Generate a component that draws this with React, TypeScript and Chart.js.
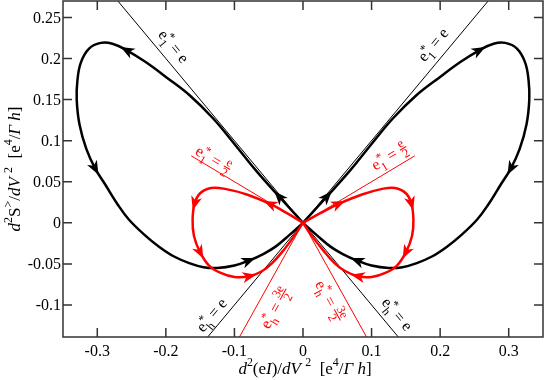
import React, { useEffect, useRef } from "react";
import { Chart, registerables } from "chart.js";
Chart.register(...registerables);

// ---------- data ----------
const xTicks = [-0.3, -0.2, -0.1, 0, 0.1, 0.2, 0.3];
const xTickLabels = ["-0.3", "-0.2", "-0.1", "0", "0.1", "0.2", "0.3"];
const yTicks = [-0.1, -0.05, 0, 0.05, 0.1, 0.15, 0.2, 0.25];
const yTickLabels = ["-0.1", "-0.05", "0", "0.05", "0.1", "0.15", "0.2", "0.25"];

const blackLeftX = [0, -0.035, -0.07, -0.1, -0.131, -0.165, -0.199, -0.23, -0.257, -0.278, -0.295, -0.312, -0.324, -0.329, -0.33, -0.326, -0.316, -0.303, -0.288, -0.27, -0.254, -0.232, -0.21, -0.188, -0.166, -0.145, -0.125, -0.1, -0.079, -0.058, -0.04, -0.02, 0];
const blackLeftY = [0, 0.032, 0.065, 0.096, 0.127, 0.155, 0.177, 0.196, 0.21, 0.218, 0.219, 0.212, 0.195, 0.173, 0.15, 0.12, 0.09, 0.066, 0.046, 0.022, 0.004, -0.014, -0.029, -0.041, -0.049, -0.054, -0.055, -0.052, -0.046, -0.038, -0.029, -0.015, 0];
const blackRightX = [0, 0.035, 0.07, 0.1, 0.131, 0.165, 0.199, 0.23, 0.257, 0.278, 0.295, 0.312, 0.324, 0.329, 0.33, 0.326, 0.316, 0.303, 0.288, 0.27, 0.254, 0.232, 0.21, 0.188, 0.166, 0.145, 0.125, 0.1, 0.079, 0.058, 0.04, 0.02, 0];
const blackRightY = [0, 0.032, 0.065, 0.096, 0.127, 0.155, 0.177, 0.196, 0.21, 0.218, 0.219, 0.212, 0.195, 0.173, 0.15, 0.12, 0.09, 0.066, 0.046, 0.022, 0.004, -0.014, -0.029, -0.041, -0.049, -0.054, -0.055, -0.052, -0.046, -0.038, -0.029, -0.015, 0];
const blackArrowIdx = [1, 8, 17, 28];

const redLeftX = [0, -0.024, -0.048, -0.082, -0.112, -0.134, -0.15, -0.158, -0.161, -0.159, -0.15, -0.137, -0.12, -0.1, -0.078, -0.06, -0.045, -0.028, -0.012, 0];
const redLeftY = [0, 0.012, 0.023, 0.0345, 0.041, 0.0425, 0.036, 0.0235, 0.004, -0.016, -0.036, -0.052, -0.061, -0.066, -0.065, -0.059, -0.049, -0.033, -0.015, 0];
const redRightX = [0, 0.026, 0.052, 0.086, 0.114, 0.134, 0.15, 0.158, 0.161, 0.159, 0.15, 0.137, 0.12, 0.1, 0.08, 0.062, 0.046, 0.029, 0.012, 0];
const redRightY = [0, 0.012, 0.023, 0.0345, 0.041, 0.0425, 0.036, 0.0235, 0.004, -0.016, -0.036, -0.052, -0.061, -0.066, -0.065, -0.059, -0.049, -0.033, -0.015, 0];
const redArrowIdx = [2, 7, 10, 14];

// straight guide lines e* = e (black) and e*/2, 3e/2 (red)
const guideAX = [-0.3, 0.16];
const guideAY = [0.3, -0.16];
const guideBX = [-0.16, 0.3];
const guideBY = [-0.16, 0.3];
const redUpLX = [-0.163, 0];
const redUpLY = [0.0815, 0];
const redUpRX = [0, 0.163];
const redUpRY = [0, 0.0815];
const redLowX = [-0.1, 0, 0.1];
const redLowY = [-0.15, 0, -0.15];

const pts = (xs: number[], ys: number[]) => xs.map((x, i) => ({ x, y: ys[i] }));

// ---------- rich text ----------
const FONT = '"Liberation Serif", "Times New Roman", serif';
type Seg = { t?: string; it?: boolean; sc?: number; dy?: number; sup?: string; sub?: string; num?: string; den?: string };
const fnt = (size: number, it?: boolean) => `${it ? "italic " : ""}${size}px ${FONT}`;

function segW(ctx: CanvasRenderingContext2D, s: Seg, base: number): number {
  if (s.num !== undefined) {
    ctx.font = fnt(base * 0.78);
    return Math.max(ctx.measureText(s.num).width, ctx.measureText(s.den || "").width) + 2;
  }
  if (s.sup !== undefined) {
    ctx.font = fnt(base * 0.75);
    const a = ctx.measureText(s.sup).width;
    const b = ctx.measureText(s.sub || "").width;
    return Math.max(a, b) + 1;
  }
  ctx.font = fnt(base * (s.sc ?? 1), s.it);
  return ctx.measureText(s.t || "").width;
}
function richW(ctx: CanvasRenderingContext2D, segs: Seg[], base: number) {
  return segs.reduce((a, s) => a + segW(ctx, s, base), 0);
}
function drawRich(ctx: CanvasRenderingContext2D, segs: Seg[], x: number, y: number, base: number) {
  let cx = x;
  ctx.textAlign = "left";
  ctx.textBaseline = "alphabetic";
  for (const s of segs) {
    const w = segW(ctx, s, base);
    if (s.num !== undefined) {
      ctx.font = fnt(base * 0.78);
      const mid = cx + w / 2;
      const axis = y - base * 0.3;
      ctx.textAlign = "center";
      ctx.fillText(s.num, mid, axis - base * 0.12);
      ctx.fillText(s.den || "", mid, axis + base * 0.6);
      ctx.fillRect(cx + 0.5, axis - 0.5, w - 1, 1);
      ctx.textAlign = "left";
    } else if (s.sup !== undefined) {
      ctx.font = fnt(base * 0.75);
      ctx.fillText(s.sup, cx, y - base * 0.36);
      ctx.fillText(s.sub || "", cx, y + base * 0.32);
    } else {
      ctx.font = fnt(base * (s.sc ?? 1), s.it);
      ctx.fillText(s.t || "", cx, y + (s.dy ?? 0) * base);
    }
    cx += w;
  }
}

const segE1 = [{ t: "e" }, { sup: "*", sub: "1" }, { t: " = e" }];
const segEh = [{ t: "e" }, { sup: "*", sub: "h" }, { t: " = e" }];
const segE1half = [{ t: "e" }, { sup: "*", sub: "1" }, { t: " = " }, { num: "e", den: "2" }];
const segEh3half = [{ t: "e" }, { sup: "*", sub: "h" }, { t: " = " }, { num: "3e", den: "2" }];

// label annotations: centre (data), slope of guide line, colour
const lineLabels = [
  { segs: segE1, cx: -0.19, cy: 0.214, slope: -1, color: "#000" },
  { segs: segE1, cx: 0.191, cy: 0.216, slope: 1, color: "#000" },
  { segs: segE1half, cx: -0.131, cy: 0.076, slope: -0.5, color: "#f00" },
  { segs: segE1half, cx: 0.127, cy: 0.08, slope: 0.5, color: "#f00" },
  { segs: segEh, cx: -0.132, cy: -0.113, slope: 1, color: "#000" },
  { segs: segEh, cx: 0.136, cy: -0.112, slope: -1, color: "#000" },
  { segs: segEh3half, cx: -0.039, cy: -0.104, slope: 1.5, color: "#f00" },
  { segs: segEh3half, cx: 0.038, cy: -0.096, slope: -1.5, color: "#f00" },
];

const xTitle: Seg[] = [
  { t: "d", it: true }, { t: "2", sc: 0.7, dy: -0.45 }, { t: "(e" }, { t: "I", it: true }, { t: ")/" },
  { t: "d", it: true }, { t: "V ", it: true }, { t: "2", sc: 0.7, dy: -0.45 }, { t: "  [e" },
  { t: "4", sc: 0.7, dy: -0.45 }, { t: "/" }, { t: "Γ ", it: true }, { t: "h", it: true }, { t: "]" },
];
const yTitle: Seg[] = [
  { t: "d", it: true }, { t: "2", sc: 0.7, dy: -0.45 }, { t: "S" }, { t: ">", sc: 0.7, dy: -0.45 }, { t: "/" },
  { t: "d", it: true }, { t: "V ", it: true }, { t: "2", sc: 0.7, dy: -0.45 }, { t: "  [e" },
  { t: "4", sc: 0.7, dy: -0.45 }, { t: "/" }, { t: "Γ ", it: true }, { t: "h", it: true }, { t: "]" },
];

function arrowHead(ctx: CanvasRenderingContext2D, x: number, y: number, dx: number, dy: number, len: number, wid: number) {
  const n = Math.hypot(dx, dy) || 1;
  const ux = dx / n, uy = dy / n, px = -uy, py = ux;
  const tx = x + ux * len * 0.5, ty = y + uy * len * 0.5;
  const bx = tx - ux * len, by = ty - uy * len;
  ctx.beginPath();
  ctx.moveTo(tx, ty);
  ctx.lineTo(bx + px * wid / 2, by + py * wid / 2);
  ctx.lineTo(tx - ux * len * 0.72, ty - uy * len * 0.72);
  ctx.lineTo(bx - px * wid / 2, by - py * wid / 2);
  ctx.closePath();
  ctx.fill();
}

const deco = {
  id: "deco",
  afterDatasetsDraw(chart: any) {
    const ctx: CanvasRenderingContext2D = chart.ctx;
    const xs = chart.scales.x, ys = chart.scales.y;
    const { left, right, top, bottom } = chart.chartArea;
    ctx.save();
    // arrows
    chart.data.datasets.forEach((ds: any, i: number) => {
      if (!ds.arrows) return;
      const meta = chart.getDatasetMeta(i);
      ctx.fillStyle = ds.borderColor;
      for (const k of ds.arrows) {
        const p = meta.data[k], a = meta.data[k - 1], b = meta.data[k + 1];
        arrowHead(ctx, p.x, p.y, b.x - a.x, b.y - a.y, 14, 11);
      }
    });
    // frame
    ctx.strokeStyle = "#333";
    ctx.lineWidth = 1.5;
    ctx.strokeRect(left, top, right - left, bottom - top);
    ctx.beginPath();
    for (const v of xTicks) {
      const px = xs.getPixelForValue(v);
      ctx.moveTo(px, bottom); ctx.lineTo(px, bottom - 9);
      ctx.moveTo(px, top); ctx.lineTo(px, top + 9);
    }
    for (const v of yTicks) {
      const py = ys.getPixelForValue(v);
      ctx.moveTo(left, py); ctx.lineTo(left + 9, py);
      ctx.moveTo(right, py); ctx.lineTo(right - 9, py);
    }
    ctx.stroke();
    // tick labels
    ctx.fillStyle = "#000";
    ctx.font = fnt(16);
    ctx.textAlign = "center";
    ctx.textBaseline = "alphabetic";
    xTicks.forEach((v, i) => ctx.fillText(xTickLabels[i], xs.getPixelForValue(v), 356));
    ctx.textAlign = "right";
    yTicks.forEach((v, i) => ctx.fillText(yTickLabels[i], 61, ys.getPixelForValue(v) + 5.5));
    // axis titles
    const wX = richW(ctx, xTitle, 17);
    drawRich(ctx, xTitle, (left + right) / 2 - wX / 2 + 2, 374, 17);
    const wY = richW(ctx, yTitle, 17);
    ctx.save();
    ctx.translate(20, (top + bottom) / 2);
    ctx.rotate(-Math.PI / 2);
    drawRich(ctx, yTitle, -wY / 2, 0, 17);
    ctx.restore();
    // guide-line labels
    for (const L of lineLabels) {
      const cx = xs.getPixelForValue(L.cx), cy = ys.getPixelForValue(L.cy);
      const p0x = xs.getPixelForValue(0), p0y = ys.getPixelForValue(0);
      const p1x = xs.getPixelForValue(0.1), p1y = ys.getPixelForValue(0.1 * L.slope);
      const ang = Math.atan2(p1y - p0y, p1x - p0x);
      ctx.save();
      ctx.translate(cx, cy);
      ctx.rotate(ang);
      ctx.fillStyle = L.color;
      const w = richW(ctx, L.segs as Seg[], 16);
      drawRich(ctx, L.segs as Seg[], -w / 2, 4, 16);
      ctx.restore();
    }
    ctx.restore();
  },
};

export default function App() {
  const ref = useRef<HTMLCanvasElement>(null);
  useEffect(() => {
    if (!ref.current) return;
    const thin = (xs: number[], ys: number[], color: string) => ({
      data: pts(xs, ys), borderColor: color, borderWidth: 1, showLine: true, pointRadius: 0, tension: 0,
    });
    const curve = (xs: number[], ys: number[], color: string, arrows: number[]) => ({
      data: pts(xs, ys), borderColor: color, borderWidth: 2.5, showLine: true, pointRadius: 0, tension: 0.4, arrows,
    });
    const chart = new Chart(ref.current, {
      type: "scatter",
      data: {
        datasets: [
          curve(redLeftX, redLeftY, "#ff0000", redArrowIdx),
          curve(redRightX, redRightY, "#ff0000", redArrowIdx),
          curve(blackLeftX, blackLeftY, "#000000", blackArrowIdx),
          curve(blackRightX, blackRightY, "#000000", blackArrowIdx),
          thin(redUpLX, redUpLY, "#ff0000"),
          thin(redUpRX, redUpRY, "#ff0000"),
          thin(redLowX, redLowY, "#ff0000"),
          thin(guideAX, guideAY, "#000000"),
          thin(guideBX, guideBY, "#000000"),
        ] as any,
      },
      options: {
        responsive: false,
        animation: false,
        devicePixelRatio: 1,
        events: [],
        layout: { padding: { left: 63, right: 2, top: 1, bottom: 43 } },
        plugins: { legend: { display: false }, tooltip: { enabled: false } },
        scales: {
          x: { type: "linear", min: -0.35, max: 0.35, display: false },
          y: { type: "linear", min: -0.139, max: 0.27, display: false },
        },
      },
      plugins: [deco],
    });
    return () => chart.destroy();
  }, []);
  return (
    <div style={{ position: "fixed", left: 0, top: 0, width: 545, height: 380, background: "#fff" }}>
      <canvas ref={ref} width={545} height={380} style={{ display: "block" }} />
    </div>
  );
}
